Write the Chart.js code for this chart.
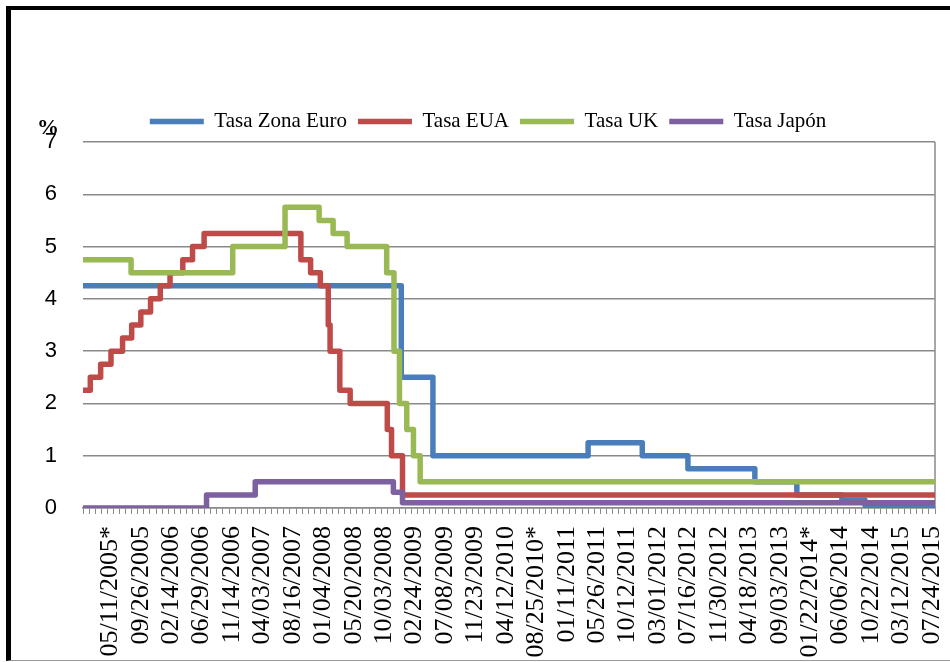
<!DOCTYPE html>
<html lang="es">
<head>
    <meta charset="UTF-8">
    <title>Tasas de interés</title>
    <style>
        body {
            margin: 0;
            background: #fff;
        }
        .frame {
            position: absolute;
            left: 6px;
            top: 6px;
            width: 944px;
            height: 655px;
            box-sizing: border-box;
            border-top: 4px solid #000;
            border-left: 5px solid #000;
            border-bottom: 1px solid #999;
        }
        .chart-container {
            position: absolute;
            left: 0;
            top: 0;
            width: 950px;
            height: 662px;
        }
    </style>
    <script src="https://cdn.jsdelivr.net/npm/chart.js"></script>
</head>
<body>

<div class="frame"></div>
<div class="chart-container">
    <canvas id="ratesChart"></canvas>
</div>

<script>
    // Etiquetas del eje X (una cada 5 categorías)
    const tickLabels = [
        '05/11/2005*', '09/26/2005', '02/14/2006', '06/29/2006', '11/14/2006',
        '04/03/2007', '08/16/2007', '01/04/2008', '05/20/2008', '10/03/2008',
        '02/24/2009', '07/08/2009', '11/23/2009', '04/12/2010', '08/25/2010*',
        '01/11/2011', '05/26/2011', '10/12/2011', '03/01/2012', '07/16/2012',
        '11/30/2012', '04/18/2013', '09/03/2013', '01/22/2014*', '06/06/2014',
        '10/22/2014', '03/12/2015', '07/24/2015'
    ];
    const catCount = 140;     // número de categorías del eje
    const labelFirst = 4;     // categoría de la primera etiqueta
    const labelEvery = 5;     // una etiqueta cada 5 categorías

    // Cambios de tasa: posición (en categorías) y nuevo valor
    const euroX = [0, 52.3, 57.5, 83.0, 91.9, 99.4, 110.4, 117.3, 124.7, 128.5, 140];
    const euroY = [4.25, 2.5, 1.0, 1.25, 1.0, 0.75, 0.5, 0.25, 0.15, 0.05, 0.05];

    const usaX = [0, 1.2, 2.9, 4.6, 6.5, 8.0, 9.5, 11.1, 12.7, 14.3, 16.4, 18.0, 19.9,
                  35.8, 37.4, 39.0, 40.3, 40.6, 42.2, 43.9, 50.0, 50.7, 52.5, 140];
    const usaY = [2.25, 2.5, 2.75, 3.0, 3.25, 3.5, 3.75, 4.0, 4.25, 4.5, 4.75, 5.0, 5.25,
                  4.75, 4.5, 4.25, 3.5, 3.0, 2.25, 2.0, 1.5, 1.0, 0.25, 0.25];

    const ukX = [0, 7.9, 24.6, 33.2, 38.8, 41.1, 43.4, 49.9, 51.1, 52.0, 53.2, 54.3, 55.4, 140];
    const ukY = [4.75, 4.5, 5.0, 5.75, 5.5, 5.25, 5.0, 4.5, 3.0, 2.0, 1.5, 1.0, 0.5, 0.5];

    const japonX = [0, 20.3, 28.3, 51.0, 52.5, 140];
    const japonY = [0, 0.25, 0.5, 0.3, 0.1, 0.1];

    function toPoints(xs, ys) {
        return xs.map((x, i) => ({ x: x, y: ys[i] }));
    }

    function serie(label, xs, ys, color, order) {
        return {
            label: label,
            data: toPoints(xs, ys),
            borderColor: color,
            backgroundColor: color,
            borderWidth: 5.5,
            borderCapStyle: 'round',
            borderJoinStyle: 'round',
            stepped: true,
            pointRadius: 0,
            order: order
        };
    }

    // "%" arriba del eje Y y borde derecho del área de trazado
    const extras = {
        id: 'extras',
        beforeDatasetsDraw(chart) {
            const { ctx, chartArea } = chart;
            ctx.save();
            ctx.strokeStyle = '#8a8a8a';
            ctx.lineWidth = 1.5;
            ctx.beginPath();
            ctx.moveTo(chartArea.right, chartArea.top);
            ctx.lineTo(chartArea.right, chartArea.bottom);
            ctx.stroke();
            ctx.restore();
        },
        afterDraw(chart) {
            const { ctx, chartArea } = chart;
            ctx.save();
            ctx.fillStyle = '#000';
            ctx.font = 'bold 22px "Liberation Serif"';
            ctx.textAlign = 'center';
            ctx.textBaseline = 'middle';
            ctx.fillText('%', chartArea.left - 35, chartArea.top - 14);
            ctx.restore();
        }
    };

    Chart.defaults.font.family = '"Liberation Serif", serif';
    Chart.defaults.color = '#000';

    const ctx = document.getElementById('ratesChart').getContext('2d');
    const ratesChart = new Chart(ctx, {
        type: 'line',
        data: {
            datasets: [
                serie('Tasa Zona Euro', euroX, euroY, '#4a7ebb', 4),
                serie('Tasa EUA', usaX, usaY, '#be4b48', 3),
                serie('Tasa UK', ukX, ukY, '#98b954', 2),
                serie('Tasa Japón', japonX, japonY, '#7d60a0', 1)
            ]
        },
        options: {
            responsive: true,
            maintainAspectRatio: false,
            animation: false,
            layout: {
                padding: { top: 100, left: 41, right: 15, bottom: 0 }
            },
            plugins: {
                legend: {
                    position: 'top',
                    labels: {
                        usePointStyle: true,
                        pointStyle: 'line',
                        pointStyleWidth: 54,
                        padding: 11,
                        font: { size: 21 },
                        sort: (a, b) => a.datasetIndex - b.datasetIndex
                    }
                },
                tooltip: { enabled: false }
            },
            scales: {
                x: {
                    type: 'linear',
                    min: 0,
                    max: catCount,
                    afterBuildTicks: function(scale) {
                        const t = [];
                        for (let i = 0; i <= catCount; i++) {
                            t.push({ value: i });
                        }
                        tickLabels.forEach((l, k) => {
                            t.push({ value: labelFirst + 0.5 + labelEvery * k });
                        });
                        t.sort((a, b) => a.value - b.value);
                        scale.ticks = t;
                    },
                    afterFit: function(scale) {
                        scale.height = 154;
                        scale.paddingLeft = 0;
                        scale.paddingRight = 0;
                    },
                    ticks: {
                        autoSkip: false,
                        minRotation: 90,
                        maxRotation: 90,
                        padding: 12,
                        font: { size: 26 },
                        callback: function(value) {
                            const k = (value - labelFirst - 0.5) / labelEvery;
                            return Number.isInteger(k) ? tickLabels[k] : '';
                        }
                    },
                    grid: {
                        drawOnChartArea: false,
                        tickLength: 6,
                        tickWidth: 1,
                        tickColor: function(context) {
                            return Number.isInteger(context.tick.value) ? '#8a8a8a' : 'rgba(0,0,0,0)';
                        }
                    },
                    border: {
                        color: '#8a8a8a',
                        width: 1.5
                    }
                },
                y: {
                    min: 0,
                    max: 7,
                    afterFit: function(scale) {
                        scale.width = 42;
                    },
                    ticks: {
                        stepSize: 1,
                        padding: 26,
                        font: { family: '"Liberation Sans", sans-serif', size: 22 }
                    },
                    grid: {
                        color: '#8a8a8a',
                        lineWidth: 1.5,
                        drawTicks: false
                    },
                    border: {
                        display: false
                    }
                }
            }
        },
        plugins: [extras]
    });
</script>

</body>
</html>
